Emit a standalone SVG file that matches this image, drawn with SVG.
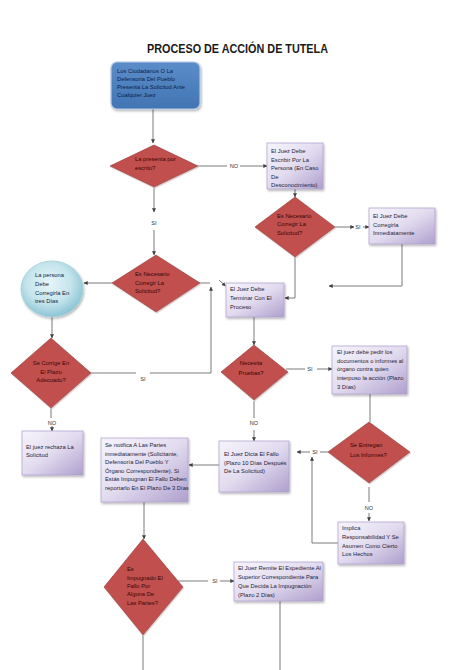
<svg xmlns="http://www.w3.org/2000/svg" width="474" height="670" viewBox="0 0 474 670">
<style>
text{font-family:"Liberation Sans",Arial,sans-serif;font-size:5.8px;}
.t{fill:#1d1d3a;}
.tb{fill:#0e1c46;}
.td{fill:#3a0606;}
.lbl{fill:#333;font-size:5.6px;text-anchor:middle;}
.box{fill:url(#boxG);stroke:#ad9fcb;stroke-width:0.7;filter:url(#sh);}
.dia{fill:#c0504d;stroke:#8f3331;stroke-width:0.6;filter:url(#shd);}
.c line,.c polyline{stroke:#595959;stroke-width:0.8;fill:none;}
.a{marker-end:url(#ar);}
</style>
<defs>
<linearGradient id="boxG" x1="0" y1="0" x2="1" y2="1">
<stop offset="0" stop-color="#f6f4fb"/>
<stop offset="0.5" stop-color="#e2dbef"/>
<stop offset="1" stop-color="#ae9fcd"/>
</linearGradient>
<linearGradient id="blueG" x1="0" y1="0" x2="0" y2="1">
<stop offset="0" stop-color="#5b8dca"/>
<stop offset="1" stop-color="#4274b3"/>
</linearGradient>
<radialGradient id="circG" cx="0.45" cy="0.4" r="0.6">
<stop offset="0" stop-color="#e8f6f9"/>
<stop offset="0.6" stop-color="#c4e4ec"/>
<stop offset="1" stop-color="#8cc4d4"/>
</radialGradient>
<filter id="sh" x="-20%" y="-20%" width="150%" height="150%">
<feDropShadow dx="1" dy="1.5" stdDeviation="1" flood-color="#000" flood-opacity="0.3"/>
</filter>
<filter id="shd" x="-20%" y="-20%" width="150%" height="150%">
<feDropShadow dx="0.8" dy="1.2" stdDeviation="0.6" flood-color="#d8c0c0" flood-opacity="0.9"/>
</filter>
<marker id="ar" viewBox="0 0 6 6" refX="5.5" refY="3" markerWidth="4" markerHeight="4" orient="auto" markerUnits="userSpaceOnUse">
<path d="M0,0 L6,3 L0,6 z" fill="#404040"/>
</marker>
</defs>
<rect width="474" height="670" fill="#ffffff"/>
<text x="147" y="53" font-weight="bold" font-size="13" textLength="181" lengthAdjust="spacingAndGlyphs" fill="#1a1a1a" style="font-size:13px">PROCESO DE ACCIÓN DE TUTELA</text>

<g class="c" id="connectors">
<line class="a" x1="153" y1="109" x2="153" y2="143"/>
<line x1="198" y1="166" x2="227" y2="166"/>
<text class="lbl" x="234" y="168">NO</text>
<line class="a" x1="240" y1="166" x2="267" y2="166"/>
<line class="a" x1="295" y1="189" x2="295" y2="197"/>
<line class="a" x1="335" y1="227" x2="354" y2="227"/>
<text class="lbl" x="358" y="229">SI</text>
<line class="a" x1="363" y1="227" x2="369" y2="227"/>
<polyline class="a" points="402,244 402,286 329,286"/>
<polyline class="a" points="295,257 295,298 285,298"/>
<line class="a" x1="219" y1="280" x2="225.5" y2="286"/>
<line class="a" x1="154" y1="187" x2="154" y2="212"/>
<text class="lbl" x="154" y="225">SI</text>
<line class="a" x1="154" y1="230" x2="154" y2="255"/>
<line class="a" x1="112" y1="283" x2="84" y2="283"/>
<line x1="200" y1="283" x2="210" y2="283"/>
<line x1="91" y1="373" x2="136" y2="373"/>
<text class="lbl" x="143" y="381">SI</text>
<polyline class="a" points="150,373 211,373 211,287"/>
<line class="a" x1="52" y1="317" x2="52" y2="338"/>
<line x1="51" y1="408" x2="51" y2="418"/>
<text class="lbl" x="52" y="425">NO</text>
<line class="a" x1="52" y1="426" x2="52" y2="431"/>
<line class="a" x1="254" y1="317" x2="254" y2="345"/>
<line x1="286" y1="369" x2="305" y2="369"/>
<text class="lbl" x="310" y="371">SI</text>
<line class="a" x1="317" y1="369" x2="332" y2="369"/>
<line x1="370" y1="394" x2="370" y2="422"/>
<line x1="328" y1="452" x2="320" y2="452"/>
<text class="lbl" x="315" y="454">SI</text>
<line class="a" x1="310" y1="452" x2="297" y2="452"/>
<polyline class="a" points="338,543 312,543 312,457"/>
<line x1="369" y1="487" x2="369" y2="502"/>
<text class="lbl" x="369" y="510">NO</text>
<line class="a" x1="369" y1="513" x2="369" y2="521"/>
<line x1="254" y1="401" x2="254" y2="418"/>
<text class="lbl" x="254" y="425">NO</text>
<line class="a" x1="254" y1="430" x2="254" y2="441"/>
<line class="a" x1="219" y1="465" x2="189" y2="465"/>
<line class="a" x1="144" y1="502" x2="144" y2="539"/>
<line x1="178" y1="581" x2="208" y2="581"/>
<text class="lbl" x="215" y="583">SI</text>
<line class="a" x1="220" y1="581" x2="234" y2="581"/>
<line x1="280" y1="601" x2="280" y2="670"/>
<line x1="143" y1="635" x2="143" y2="670"/>
</g>

<g id="n-inicio">
<rect x="111" y="62" width="89" height="47" rx="6" fill="url(#blueG)" stroke="#b6cbe6" stroke-width="1.2" filter="url(#sh)"/>
<text class="tb" x="117" y="73">Los Ciudadanos O La</text>
<text class="tb" x="117" y="81">Defensoria Del Pueblo</text>
<text class="tb" x="117" y="89">Presenta La Solicitud Ante</text>
<text class="tb" x="117" y="97">Cualquier Juez</text>
</g>

<g id="n-escrito">
<polygon class="dia" points="154,145 198,166 154,187 110,166"/>
<text class="td" x="135" y="161">La presenta por</text>
<text class="td" x="135" y="170">escrito?</text>
</g>

<g id="n-escribir">
<rect class="box" x="267" y="143" width="56" height="46"/>
<text class="t" x="271" y="153">El Juez Debe</text>
<text class="t" x="271" y="161.5">Escribir Por La</text>
<text class="t" x="271" y="170">Persona (En Caso</text>
<text class="t" x="271" y="178.5">De</text>
<text class="t" x="271" y="187">Desconocimiento)</text>
</g>

<g id="n-corregir2">
<polygon class="dia" points="295,197 335,227 295,257 255,227"/>
<text class="td" x="277" y="218">Es Necesario</text>
<text class="td" x="277" y="226">Corregir La</text>
<text class="td" x="277" y="235">Solicitud?</text>
</g>

<g id="n-corregirla">
<rect class="box" x="369" y="208" width="66" height="36"/>
<text class="t" x="373" y="218">El Juez Debe</text>
<text class="t" x="373" y="226.5">Corregirla</text>
<text class="t" x="373" y="235">Inmediatamente</text>
</g>

<g id="n-corregir1">
<polygon class="dia" points="156,255 200,283 156,312 112,283"/>
<text class="td" x="135" y="276">Es Necesario</text>
<text class="td" x="135" y="285">Corregir La</text>
<text class="td" x="135" y="293">Solicitud?</text>
</g>

<g id="n-persona">
<ellipse cx="52" cy="289" rx="31" ry="28" fill="url(#circG)" stroke="#a4d0dc" stroke-width="0.8" filter="url(#sh)"/>
<text class="tb" x="35" y="277">La persona</text>
<text class="tb" x="35" y="286">Debe</text>
<text class="tb" x="35" y="295">Corregirla En</text>
<text class="tb" x="35" y="303">tres Días</text>
</g>

<g id="n-terminar">
<rect class="box" x="226" y="283" width="58" height="34"/>
<text class="t" x="230" y="291">El Juez Debe</text>
<text class="t" x="230" y="300">Terminar Con El</text>
<text class="t" x="230" y="309">Proceso</text>
</g>

<g id="n-plazo">
<polygon class="dia" points="51,338 91,373 51,408 11,373"/>
<text class="td" x="51" y="365" text-anchor="middle">Se Corrige En</text>
<text class="td" x="51" y="374" text-anchor="middle">El Plazo</text>
<text class="td" x="51" y="382" text-anchor="middle">Adecuado?</text>
</g>

<g id="n-pruebas">
<polygon class="dia" points="254,345 288,372 254,400 221,372"/>
<text class="td" x="251" y="365" text-anchor="middle">Necesita</text>
<text class="td" x="251" y="375" text-anchor="middle">Pruebas?</text>
</g>

<g id="n-pedir">
<rect class="box" x="332" y="346" width="75" height="48"/>
<text class="t" x="337" y="354">El juez debe pedir los</text>
<text class="t" x="337" y="362.7">documentos o informes al</text>
<text class="t" x="337" y="371.4">órgano contra quien</text>
<text class="t" x="337" y="380.1">interpuso la acción (Plazo</text>
<text class="t" x="337" y="388.8">3 Días)</text>
</g>

<g id="n-rechaza">
<rect class="box" x="22" y="431" width="61" height="44"/>
<text class="t" x="26" y="449">El juez rechaza La</text>
<text class="t" x="26" y="457">Solicitud</text>
</g>

<g id="n-informes">
<polygon class="dia" points="369,422 410,452 369,483 328,452"/>
<text class="td" x="350" y="447">Se Entregan</text>
<text class="td" x="350" y="457">Los Informes?</text>
</g>

<g id="n-fallo">
<rect class="box" x="219" y="441" width="70" height="51"/>
<text class="t" x="224" y="456">El Juez Dicta El Fallo</text>
<text class="t" x="224" y="465">(Plazo 10 Días Después</text>
<text class="t" x="224" y="473">De La Solicitud)</text>
</g>

<g id="n-notifica">
<rect class="box" x="101" y="438" width="87" height="64"/>
<text class="t" x="105" y="447">Se notifica A Las Partes</text>
<text class="t" x="105" y="455.6">inmediatamente (Solicitante,</text>
<text class="t" x="105" y="464.2">Defensoría Del Pueblo Y</text>
<text class="t" x="105" y="472.8">Órgano Correspondiente). Si</text>
<text class="t" x="105" y="481.4">Estás Impugnan El Fallo Deben</text>
<text class="t" x="105" y="490">reportarlo En El Plazo De 3 Días</text>
</g>

<g id="n-implica">
<rect class="box" x="338" y="522" width="66" height="42"/>
<text class="t" x="342" y="530">Implica</text>
<text class="t" x="342" y="539">Responsabilidad Y Se</text>
<text class="t" x="342" y="548">Asumen Como Cierto</text>
<text class="t" x="342" y="556">Los Hechos</text>
</g>

<g id="n-impugnado">
<polygon class="dia" points="143,539 183,587 143,635 104,587"/>
<text class="td" x="127" y="571">Es</text>
<text class="td" x="127" y="580">Impugnado El</text>
<text class="td" x="127" y="588">Fallo Por</text>
<text class="td" x="127" y="596">Alguna De</text>
<text class="td" x="127" y="605">Las Partes?</text>
</g>

<g id="n-remite">
<rect class="box" x="234" y="562" width="89" height="39"/>
<text class="t" x="238" y="570">El Juez Remite El Expediente Al</text>
<text class="t" x="238" y="579">Superior Correspondiente Para</text>
<text class="t" x="238" y="588">Que Decida La Impugnación</text>
<text class="t" x="238" y="597">(Plazo 2 Días)</text>
</g>
</svg>
